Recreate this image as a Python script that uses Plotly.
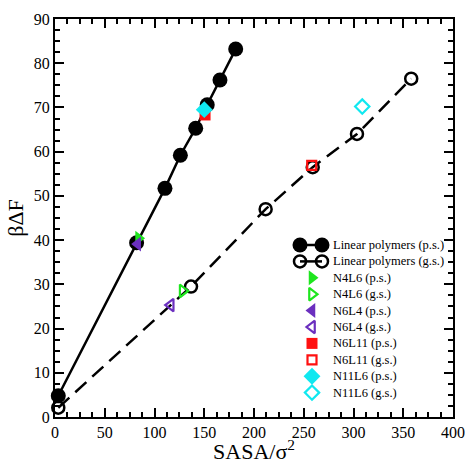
import plotly.graph_objects as go

# Linear polymers: solvent-accessible surface area vs. free energy
lin_ps_sasa = [3.3, 82.0, 110.5, 126.0, 141.4, 153.0, 165.8, 181.6]
lin_ps_dF = [4.8, 39.4, 51.7, 59.2, 65.3, 70.6, 76.2, 83.2]
lin_gs_sasa = [3.3, 136.7, 211.7, 259.0, 303.5, 358.0]
lin_gs_dF = [2.1, 29.5, 47.0, 56.5, 64.0, 76.5]

# Branched polymers, p.s. and g.s. values
branch_names = ["N4L6", "N6L4", "N6L11", "N11L6"]
branch_ps_sasa = [84.0, 83.1, 150.8, 150.0]
branch_ps_dF = [40.4, 39.1, 68.3, 69.5]
branch_gs_sasa = [128.3, 116.3, 258.0, 308.8]
branch_gs_dF = [28.5, 25.3, 56.9, 70.2]
branch_colors = ["#1EE61E", "#6B2FBF", "#FF1010", "#10E8F0"]
branch_symbols = ["triangle-right", "triangle-left", "square", "diamond"]
branch_sizes = [13, 13, 11, 13]

x_ticks = [0, 50, 100, 150, 200, 250, 300, 350, 400]
y_ticks = [0, 10, 20, 30, 40, 50, 60, 70, 80, 90]

FONT = "Liberation Serif"
W, H = 465, 464
ML, MR, MT, MB = 55, 12, 19, 47

fig = go.Figure()

ps_line = dict(color="black", width=2.5)
gs_line = dict(color="black", width=2.5, dash="15px,8px")
ps_marker = dict(symbol="circle", size=15, color="black")
gs_marker = dict(symbol="circle-open", size=12, color="black",
                 line=dict(width=2.5, color="black"))

fig.add_trace(go.Scatter(x=lin_ps_sasa, y=lin_ps_dF, mode="lines+markers",
                         line=ps_line, marker=ps_marker, cliponaxis=False))
fig.add_trace(go.Scatter(x=lin_gs_sasa, y=lin_gs_dF, mode="lines+markers",
                         line=gs_line, marker=gs_marker, cliponaxis=False))


def ps_sym(sym, col, size):
    return dict(symbol=sym, size=size, color=col, line=dict(width=0))


def gs_sym(sym, col, size):
    return dict(symbol=sym + "-open", size=size - 2, color=col,
                line=dict(width=2.2, color=col))


for xs, ys, xg, yg, col, sym, sz in zip(branch_ps_sasa, branch_ps_dF,
                                        branch_gs_sasa, branch_gs_dF,
                                        branch_colors, branch_symbols, branch_sizes):
    fig.add_trace(go.Scatter(x=[xs], y=[ys], mode="markers",
                             marker=ps_sym(sym, col, sz), cliponaxis=False))
    fig.add_trace(go.Scatter(x=[xg], y=[yg], mode="markers",
                             marker=gs_sym(sym, col, sz), cliponaxis=False))

# Legend drawn on an overlay axis measured in pixels of the plotting area
legend_labels = ["Linear polymers (p.s.)", "Linear polymers (g.s.)"]
legend_markers = [None, None]
for name, col, sym, sz in zip(branch_names, branch_colors, branch_symbols, branch_sizes):
    legend_labels += [f"{name} (p.s.)", f"{name} (g.s.)"]
    legend_markers += [ps_sym(sym, col, sz), gs_sym(sym, col, sz)]

row0, row_gap = 245.0, 16.4
sym_x, text_x = 312.0, 331.0
annotations = []
for i, (label, mk) in enumerate(zip(legend_labels, legend_markers)):
    ry = row0 + i * row_gap
    if i < 2:
        fig.add_trace(go.Scatter(
            x=[300, 322], y=[ry, ry], mode="lines+markers",
            line=dict(color="black", width=2.5),
            marker=ps_marker if i == 0 else gs_marker,
            xaxis="x2", yaxis="y2", cliponaxis=False, hoverinfo="skip"))
    else:
        fig.add_trace(go.Scatter(
            x=[sym_x], y=[ry], mode="markers", marker=mk,
            xaxis="x2", yaxis="y2", cliponaxis=False, hoverinfo="skip"))
    annotations.append(dict(
        x=text_x, y=ry, xref="x2", yref="y2", text=label, showarrow=False,
        xanchor="left", yanchor="middle",
        font=dict(family=FONT, size=12.5, color="black")))

axis_common = dict(
    showline=True, linecolor="black", linewidth=2, mirror="ticks",
    ticks="inside", ticklen=9, tickwidth=1.5, tickcolor="black",
    showgrid=False, zeroline=False, automargin=False,
    tickfont=dict(family=FONT, size=16, color="black"),
)

fig.update_layout(
    xaxis=dict(
        range=[0, 400], tickvals=x_ticks,
        minor=dict(ticks="inside", ticklen=5, tickwidth=1.5, tickcolor="black", dtick=12.5),
        title=dict(text="SASA/σ<sup>2</sup>", font=dict(family=FONT, size=22, color="black"),
                   standoff=5),
        **axis_common,
    ),
    yaxis=dict(
        range=[0, 90], tickvals=y_ticks,
        minor=dict(ticks="inside", ticklen=5, tickwidth=1.5, tickcolor="black", dtick=2.5),
        title=dict(text="βΔF", font=dict(family=FONT, size=22, color="black"), standoff=4),
        **axis_common,
    ),
    xaxis2=dict(range=[ML, W - MR], overlaying="x", visible=False, fixedrange=True),
    yaxis2=dict(range=[H - MB, MT], overlaying="y", visible=False, fixedrange=True),
    annotations=annotations,
    width=W, height=H,
    margin=dict(l=ML, r=MR, t=MT, b=MB),
    paper_bgcolor="white", plot_bgcolor="white",
    font=dict(family=FONT, color="black"),
    showlegend=False,
)

fig.write_html("out.html")
